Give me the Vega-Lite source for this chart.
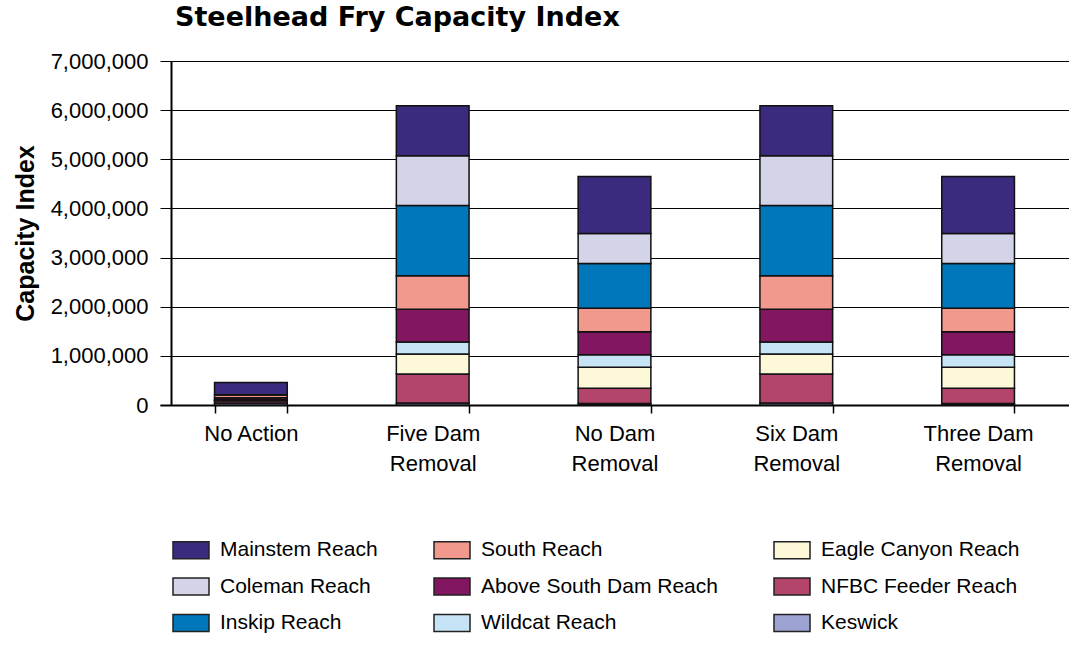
{
  "$schema": "https://vega.github.io/schema/vega-lite/v6.json",
  "width": 909,
  "height": 344,
  "autosize": {"type": "none"},
  "padding": {"left": 160, "top": 61, "right": 0, "bottom": 240},
  "background": "white",
  "config": {"view": {"stroke": null}, "font": "Liberation Sans", "lineBreak": "\n"},
  "title": {
    "text": "Steelhead Fry Capacity Index",
    "anchor": "start",
    "frame": "group",
    "dx": 15,
    "offset": 18,
    "font": "DejaVu Sans",
    "fontWeight": "bold",
    "fontSize": 27,
    "color": "black"
  },
  "data": {
    "values": [
      {"scenario": "No Action", "reach": "Keswick", "rank": 1, "value": 40000},
      {"scenario": "No Action", "reach": "NFBC Feeder Reach", "rank": 2, "value": 45000},
      {"scenario": "No Action", "reach": "Eagle Canyon Reach", "rank": 3, "value": 10000},
      {"scenario": "No Action", "reach": "Wildcat Reach", "rank": 4, "value": 10000},
      {"scenario": "No Action", "reach": "Above South Dam Reach", "rank": 5, "value": 40000},
      {"scenario": "No Action", "reach": "South Reach", "rank": 6, "value": 65000},
      {"scenario": "No Action", "reach": "Inskip Reach", "rank": 7, "value": 0},
      {"scenario": "No Action", "reach": "Coleman Reach", "rank": 8, "value": 0},
      {"scenario": "No Action", "reach": "Mainstem Reach", "rank": 9, "value": 250000},
      {"scenario": "Five Dam Removal", "reach": "Keswick", "rank": 1, "value": 40000},
      {"scenario": "Five Dam Removal", "reach": "NFBC Feeder Reach", "rank": 2, "value": 590000},
      {"scenario": "Five Dam Removal", "reach": "Eagle Canyon Reach", "rank": 3, "value": 410000},
      {"scenario": "Five Dam Removal", "reach": "Wildcat Reach", "rank": 4, "value": 240000},
      {"scenario": "Five Dam Removal", "reach": "Above South Dam Reach", "rank": 5, "value": 670000},
      {"scenario": "Five Dam Removal", "reach": "South Reach", "rank": 6, "value": 680000},
      {"scenario": "Five Dam Removal", "reach": "Inskip Reach", "rank": 7, "value": 1430000},
      {"scenario": "Five Dam Removal", "reach": "Coleman Reach", "rank": 8, "value": 1010000},
      {"scenario": "Five Dam Removal", "reach": "Mainstem Reach", "rank": 9, "value": 1020000},
      {"scenario": "No Dam Removal", "reach": "Keswick", "rank": 1, "value": 30000},
      {"scenario": "No Dam Removal", "reach": "NFBC Feeder Reach", "rank": 2, "value": 310000},
      {"scenario": "No Dam Removal", "reach": "Eagle Canyon Reach", "rank": 3, "value": 430000},
      {"scenario": "No Dam Removal", "reach": "Wildcat Reach", "rank": 4, "value": 250000},
      {"scenario": "No Dam Removal", "reach": "Above South Dam Reach", "rank": 5, "value": 470000},
      {"scenario": "No Dam Removal", "reach": "South Reach", "rank": 6, "value": 480000},
      {"scenario": "No Dam Removal", "reach": "Inskip Reach", "rank": 7, "value": 910000},
      {"scenario": "No Dam Removal", "reach": "Coleman Reach", "rank": 8, "value": 610000},
      {"scenario": "No Dam Removal", "reach": "Mainstem Reach", "rank": 9, "value": 1160000},
      {"scenario": "Six Dam Removal", "reach": "Keswick", "rank": 1, "value": 40000},
      {"scenario": "Six Dam Removal", "reach": "NFBC Feeder Reach", "rank": 2, "value": 590000},
      {"scenario": "Six Dam Removal", "reach": "Eagle Canyon Reach", "rank": 3, "value": 410000},
      {"scenario": "Six Dam Removal", "reach": "Wildcat Reach", "rank": 4, "value": 240000},
      {"scenario": "Six Dam Removal", "reach": "Above South Dam Reach", "rank": 5, "value": 670000},
      {"scenario": "Six Dam Removal", "reach": "South Reach", "rank": 6, "value": 680000},
      {"scenario": "Six Dam Removal", "reach": "Inskip Reach", "rank": 7, "value": 1430000},
      {"scenario": "Six Dam Removal", "reach": "Coleman Reach", "rank": 8, "value": 1010000},
      {"scenario": "Six Dam Removal", "reach": "Mainstem Reach", "rank": 9, "value": 1020000},
      {"scenario": "Three Dam Removal", "reach": "Keswick", "rank": 1, "value": 30000},
      {"scenario": "Three Dam Removal", "reach": "NFBC Feeder Reach", "rank": 2, "value": 310000},
      {"scenario": "Three Dam Removal", "reach": "Eagle Canyon Reach", "rank": 3, "value": 430000},
      {"scenario": "Three Dam Removal", "reach": "Wildcat Reach", "rank": 4, "value": 250000},
      {"scenario": "Three Dam Removal", "reach": "Above South Dam Reach", "rank": 5, "value": 470000},
      {"scenario": "Three Dam Removal", "reach": "South Reach", "rank": 6, "value": 480000},
      {"scenario": "Three Dam Removal", "reach": "Inskip Reach", "rank": 7, "value": 910000},
      {"scenario": "Three Dam Removal", "reach": "Coleman Reach", "rank": 8, "value": 610000},
      {"scenario": "Three Dam Removal", "reach": "Mainstem Reach", "rank": 9, "value": 1160000}
    ]
  },
  "mark": {"type": "bar", "stroke": "#111111", "strokeWidth": 1.5},
  "encoding": {
    "x": {
      "field": "scenario",
      "type": "nominal",
      "sort": ["No Action", "Five Dam Removal", "No Dam Removal", "Six Dam Removal", "Three Dam Removal"],
      "scale": {"paddingInner": 0.6, "paddingOuter": 0.3},
      "axis": {
        "title": null,
        "tickBand": "extent",
        "domainColor": "black",
        "domainWidth": 2,
        "tickColor": "black",
        "tickSize": 8,
        "tickWidth": 1.5,
        "labelFontSize": 22,
        "labelColor": "black",
        "labelPadding": 10,
        "labelAngle": 0,
        "labelLimit": 400,
        "labelLineHeight": 30,
        "labelExpr": "datum.value == null ? '' : replace(datum.value, ' Removal', '\\nRemoval')",
        "grid": false
      }
    },
    "y": {
      "field": "value",
      "type": "quantitative",
      "stack": "zero",
      "scale": {"domain": [0, 7000000], "nice": false},
      "axis": {
        "title": "Capacity Index",
        "titleFontSize": 25,
        "titleFontWeight": "bold",
        "titleColor": "black",
        "titlePadding": 12,
        "format": ",d",
        "values": [0, 1000000, 2000000, 3000000, 4000000, 5000000, 6000000, 7000000],
        "offset": -11,
        "domainColor": "black",
        "domainWidth": 2,
        "tickColor": "black",
        "tickSize": 6,
        "tickWidth": 1,
        "labelFontSize": 22,
        "labelColor": "black",
        "labelPadding": 17,
        "grid": true,
        "gridColor": "black",
        "gridWidth": 1,
        "gridOpacity": 1
      }
    },
    "color": {
      "field": "reach",
      "type": "nominal",
      "scale": {
        "domain": ["Mainstem Reach", "Coleman Reach", "Inskip Reach", "South Reach", "Above South Dam Reach", "Wildcat Reach", "Eagle Canyon Reach", "NFBC Feeder Reach", "Keswick"],
        "range": ["#3C2A7E", "#D3D4E8", "#0077BB", "#F2998E", "#821660", "#C6E4F5", "#FDF8D8", "#B3446C", "#9DA3D2"]
      },
      "legend": {
        "title": null,
        "orient": "none",
        "legendX": 12,
        "legendY": 470,
        "columns": 3,
        "symbolType": "M-1,-0.47L1,-0.47L1,0.47L-1,0.47Z",
        "symbolSize": 1296,
        "symbolStrokeColor": "#222222",
        "symbolStrokeWidth": 1.5,
        "labelFontSize": 21,
        "labelColor": "black",
        "labelOffset": 10,
        "labelLimit": 400,
        "columnPadding": 53,
        "rowPadding": 5.5,
        "padding": 0
      }
    },
    "order": {"field": "rank", "type": "quantitative", "sort": "ascending"}
  }
}
